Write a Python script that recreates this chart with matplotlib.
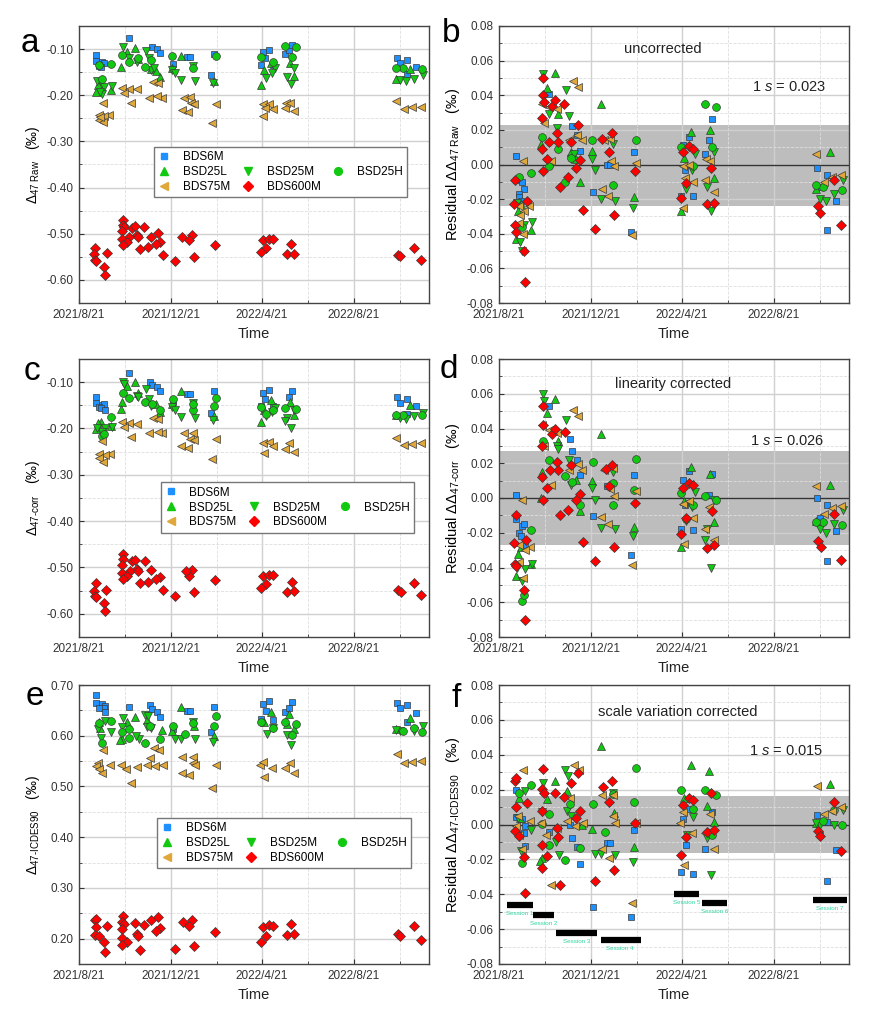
import numpy as np
import matplotlib
matplotlib.use('Agg')
import matplotlib.pyplot as plt
import matplotlib.dates as mdates
from matplotlib.lines import Line2D

# Fonts
plt.rcParams['font.family'] = ['Liberation Sans', 'DejaVu Sans']
plt.rcParams['mathtext.fontset'] = 'custom'
plt.rcParams['mathtext.rm'] = 'Liberation Sans'
plt.rcParams['mathtext.it'] = 'Liberation Sans:italic'
plt.rcParams['axes.unicode_minus'] = False

# Samples
names = ['BDS6M', 'BSD25L', 'BSD25M', 'BSD25H', 'BDS75M', 'BDS600M']
markers = ['s', '^', 'v', 'o', '<', 'D']
colors = ['#1e90ff', '#12c912', '#12c912', '#12c912', '#e0a83a', '#ff0000']
msizes = [5.0, 6.0, 6.0, 5.6, 6.0, 5.0]

# Mittelwerte je Probe (a, c, e)
mean_raw = [-0.117, -0.150, -0.148, -0.128, -0.219, -0.521]
mean_corr = [-0.133, -0.157, -0.159, -0.156, -0.227, -0.524]
mean_cdes = [0.660, 0.612, 0.610, 0.607, 0.541, 0.212]

# Residuen (Tage seit 2021/8/21, Residuum) - uncorrected
res_b_6m = [(22, 0.005), (22, -0.009), (30, -0.010), (33, -0.014), (26, -0.017), (27, -0.019), (29, -0.021),
            (66, 0.041), (97, 0.022), (104, 0.017), (108, 0.008), (125, -0.016), (144, 0.000), (148, 0.000),
            (179, 0.007), (176, -0.039), (245, 0.011), (253, 0.016), (242, -0.018), (258, -0.018), (247, -0.003),
            (274, 0.006), (279, 0.014), (283, 0.026), (422, -0.002), (427, -0.013), (436, -0.006), (436, -0.038),
            (448, -0.021)]
res_b_25l = [(74, 0.053), (64, 0.044), (136, 0.035), (123, 0.008), (108, -0.010), (179, -0.019), (22, -0.043),
             (42, -0.038), (29, -0.023), (95, 0.007), (79, 0.029), (56, 0.012), (102, 0.003), (25, -0.027),
             (255, 0.019), (246, 0.004), (242, -0.027), (280, 0.020), (285, -0.008), (440, 0.007), (421, -0.014)]
res_b_25m = [(59, 0.052), (89, 0.043), (66, 0.029), (93, 0.028), (95, 0.003), (124, 0.003), (128, -0.003),
             (152, 0.012), (136, -0.020), (154, -0.021), (178, -0.025), (44, -0.033), (33, -0.035), (30, -0.050),
             (24, -0.022), (77, 0.021), (100, 0.006), (28, -0.045), (260, 0.006), (257, -0.003), (248, -0.014),
             (282, -0.027), (286, 0.007), (277, -0.013), (426, -0.020), (435, -0.021), (445, -0.017), (457, -0.009)]
res_b_25h = [(57, 0.016), (79, 0.009), (67, -0.001), (42, -0.005), (27, -0.007), (88, -0.010), (124, 0.014),
             (151, -0.012), (182, 0.014), (96, 0.004), (30, -0.036), (242, 0.010), (258, -0.001), (274, 0.035),
             (288, 0.033), (283, 0.010), (430, -0.013), (456, -0.015), (421, -0.012)]
res_b_75m = [(98, 0.048), (105, 0.045), (57, 0.035), (66, 0.033), (77, 0.032), (60, 0.024), (93, 0.014),
             (110, 0.014), (104, 0.017), (69, 0.002), (32, 0.002), (140, 0.014), (148, 0.015), (149, 0.002),
             (153, -0.001), (182, 0.001), (137, -0.014), (145, -0.018), (177, -0.041), (27, -0.024), (40, -0.024),
             (33, -0.027), (26, -0.034), (32, -0.040), (28, -0.029), (245, -0.001), (252, -0.0005), (258, -0.010),
             (245, -0.025), (274, -0.009), (275, 0.003), (286, -0.016), (247, -0.008), (280, 0.002),
             (421, 0.006), (432, -0.010), (443, -0.007), (454, -0.006)]
res_b_600 = [(58, 0.050), (58, 0.040), (60, 0.036), (70, 0.034), (75, 0.037), (87, 0.035), (57, 0.027),
             (105, 0.023), (77, 0.018), (67, 0.013), (79, 0.013), (57, 0.009), (95, 0.013), (64, 0.003),
             (58, -0.004), (108, 0.0025), (102, -0.002), (92, -0.007), (81, -0.013), (150, 0.018), (146, 0.007),
             (137, 0.015), (181, -0.004), (111, -0.026), (127, -0.037), (153, -0.029), (21, -0.009), (20, -0.023),
             (37, -0.021), (21, -0.035), (23, -0.039), (33, -0.050), (35, -0.068), (245, 0.007), (253, 0.0105),
             (258, 0.009), (249, -0.0104), (242, -0.0195), (276, -0.023), (286, -0.022), (281, -0.002),
             (424, -0.024), (427, -0.028), (445, -0.009), (454, -0.035)]

# Residuen - linearity corrected
res_d_6m = [(22, 0.002), (22, -0.012), (31, -0.016), (33, -0.015), (27, -0.020), (29, -0.022), (35, -0.027),
            (66, 0.053), (94, 0.034), (97, 0.027), (103, 0.022), (108, 0.013), (125, -0.0105), (144, 0.0067),
            (148, 0.0067), (179, 0.013), (176, -0.0326), (245, 0.0105), (253, 0.0153), (242, -0.0177),
            (258, -0.0186), (247, -0.004), (279, 0.002), (283, 0.0138), (422, 0.0), (427, -0.0115),
            (436, -0.004), (436, -0.036), (448, -0.019)]
res_d_25l = [(74, 0.057), (64, 0.049), (136, 0.037), (57, 0.015), (79, 0.033), (123, 0.0096), (108, -0.0077),
             (179, -0.0167), (102, 0.0105), (22, -0.045), (42, -0.038), (29, -0.028), (25, -0.032), (56, 0.0),
             (255, 0.018), (246, -0.002), (242, -0.028), (280, 0.014), (285, -0.014), (440, 0.0073), (421, -0.0134)]
res_d_25m = [(59, 0.060), (60, 0.056), (89, 0.045), (77, 0.030), (79, 0.028), (93, 0.022), (95, 0.0077),
             (124, 0.0058), (128, -0.001), (152, 0.015), (136, -0.017), (154, -0.018), (178, -0.022), (44, -0.038),
             (35, -0.041), (30, -0.048), (24, -0.040), (260, 0.0035), (248, -0.0134), (257, -0.005), (282, -0.040),
             (286, -0.0013), (277, -0.018), (274, -0.024), (426, -0.018), (435, -0.020), (445, -0.015), (457, -0.007)]
res_d_25h = [(58, 0.0326), (66, 0.022), (88, 0.0128), (125, 0.0205), (151, -0.004), (42, -0.0186), (30, -0.0595),
             (33, -0.0556), (182, 0.0224), (179, 0.0048), (108, -0.004), (151, 0.0086), (97, 0.009), (242, 0.003),
             (258, -0.004), (274, 0.001), (288, -0.0013), (248, -0.012), (430, -0.0138), (456, -0.0153), (421, -0.014)]
res_d_75m = [(98, 0.0505), (105, 0.047), (57, 0.042), (66, 0.039), (77, 0.0374), (60, 0.030), (93, 0.0163),
             (110, 0.0163), (105, 0.0198), (69, 0.0077), (31, -0.001), (140, 0.0163), (152, 0.0173), (148, 0.0052),
             (153, 0.0013), (182, 0.0038), (136, -0.011), (145, -0.015), (177, -0.0384), (27, -0.027), (41, -0.028),
             (35, -0.030), (26, -0.037), (32, -0.046), (245, -0.0035), (252, -0.002), (258, -0.0115), (246, -0.0265),
             (274, -0.0177), (279, -0.005), (286, -0.024), (421, 0.0067), (432, -0.0092), (443, -0.0058),
             (454, -0.0048)]
res_d_600 = [(58, 0.053), (58, 0.042), (70, 0.037), (74, 0.040), (88, 0.038), (57, 0.030), (77, 0.021), (68, 0.016),
             (79, 0.016), (96, 0.019), (57, 0.012), (64, 0.006), (108, 0.0025), (102, -0.0013), (58, -0.001),
             (92, -0.0067), (81, -0.010), (111, -0.0255), (127, -0.0365), (153, -0.028), (150, 0.019), (146, 0.0067),
             (142, 0.0167), (181, -0.003), (22, -0.010), (20, -0.026), (36, -0.024), (21, -0.038), (23, -0.039),
             (33, -0.053), (35, -0.070), (245, 0.0058), (252, 0.0086), (258, 0.0075), (249, -0.0115), (242, -0.0205),
             (276, -0.0288), (286, -0.0272), (283, -0.0077), (424, -0.025), (428, -0.028), (445, -0.009),
             (454, -0.0355)]

# Residuen - scale variation corrected
res_f_6m = [(22, 0.020), (23, 0.0044), (30, 0.0033), (35, -0.001), (33, -0.005), (27, -0.006), (35, -0.0125),
            (66, -0.0042), (94, -0.0004), (97, -0.008), (103, -0.0129), (108, -0.0224), (144, -0.0107),
            (148, -0.0107), (125, -0.0474), (179, -0.003), (176, -0.0528), (244, 0.0033), (253, 0.009),
            (249, -0.012), (242, -0.0275), (258, -0.0282), (274, -0.014), (279, -0.0052), (283, 0.0073),
            (422, 0.0052), (427, -0.0063), (436, 0.0013), (436, -0.0326), (448, -0.0148)]
res_f_25l = [(136, 0.045), (74, 0.025), (64, 0.0144), (26, 0.015), (57, -0.019), (123, -0.0025), (179, -0.0129),
             (153, 0.0067), (54, -0.021), (91, 0.019), (28, 0.004), (110, 0.0), (255, 0.034), (279, 0.0305),
             (276, 0.0106), (246, 0.0154), (285, 0.0013), (440, 0.0234), (421, 0.0006)]
res_f_25m = [(88, 0.031), (92, 0.028), (58, 0.024), (35, 0.019), (57, 0.007), (91, 0.0077), (80, -0.0173),
             (128, -0.0167), (136, -0.0167), (154, -0.0173), (178, -0.0217), (151, 0.018), (29, -0.015),
             (76, -0.0102), (95, 0.005), (42, -0.003), (25, 0.004), (258, 0.0044), (282, -0.029), (250, -0.0063),
             (276, -0.008), (426, 0.0), (445, -0.0004), (457, 0.0083), (421, 0.001)]
res_f_25h = [(42, 0.0224), (57, 0.0004), (66, -0.0115), (88, -0.0205), (94, 0.012), (125, 0.0115), (141, -0.0044),
             (151, 0.0173), (182, 0.0326), (179, 0.013), (30, -0.022), (108, -0.0134), (27, 0.018), (67, 0.006),
             (242, 0.0196), (258, 0.009), (274, 0.0196), (288, 0.0169), (283, -0.006), (430, 0.002), (445, 0.0086),
             (456, 0.0)]
res_f_75m = [(25, 0.005), (23, -0.001), (27, -0.006), (31, -0.014), (41, 0.002), (32, 0.031), (56, 0.001),
             (62, -0.006), (69, -0.0345), (77, -0.002), (91, 0.002), (94, 0.015), (99, 0.034), (106, 0.031),
             (101, -0.001), (111, 0.001), (137, 0.017), (152, 0.017), (137, -0.014), (146, -0.019), (151, 0.005),
             (154, 0.001), (177, -0.045), (182, 0.001), (241, 0.001), (244, 0.007), (246, -0.023), (257, -0.005),
             (274, -0.005), (280, 0.006), (286, -0.014), (422, 0.022), (432, 0.006), (443, 0.008), (454, 0.010)]
res_f_600 = [(58, 0.0317), (105, 0.0297), (21, 0.025), (23, 0.0269), (57, 0.0205), (60, 0.0178), (96, 0.024),
             (74, 0.018), (87, 0.0157), (150, 0.025), (138, 0.0215), (146, 0.0129), (37, 0.0121), (22, 0.010),
             (108, 0.008), (57, 0.0077), (102, 0.0035), (77, -0.002), (78, -0.007), (21, -0.004), (57, -0.0115),
             (26, -0.0067), (181, 0.001), (64, -0.018), (33, -0.0186), (57, -0.025), (153, -0.0263), (127, -0.0326),
             (81, -0.0345), (35, -0.039), (244, 0.0111), (252, 0.015), (258, 0.0138), (249, -0.0073),
             (242, -0.0177), (281, 0.0178), (276, -0.0044), (286, -0.0029), (424, -0.0038), (427, -0.0067),
             (445, 0.0129), (454, -0.015)]

res_b = [res_b_6m, res_b_25l, res_b_25m, res_b_25h, res_b_75m, res_b_600]
res_d = [res_d_6m, res_d_25l, res_d_25m, res_d_25h, res_d_75m, res_d_600]
res_f = [res_f_6m, res_f_25l, res_f_25m, res_f_25h, res_f_75m, res_f_600]

# Sessions (Tage seit Start)
sess_start = [10, 45, 76, 135, 232, 270, 417]
sess_end = [45, 73, 130, 188, 266, 303, 462]
sess_y = [-0.046, -0.052, -0.062, -0.066, -0.040, -0.045, -0.0434]
sess_labels = ['Session 1', 'Session 2', 'Session 3', 'Session 4', 'Session 5', 'Session 6', 'Session 7']

# 1 s Baender
band_b = (-0.0237, 0.0229)
band_d = (-0.0268, 0.0268)
band_f = (-0.0163, 0.0163)

start = np.datetime64('2021-08-21')
x_end = np.datetime64('2022-11-29')
major_dates = ['2021-08-21', '2021-12-21', '2022-04-21', '2022-08-21']
major_labels = ['2021/8/21', '2021/12/21', '2022/4/21', '2022/8/21']
minor_dates = ['2021-10-21', '2022-02-21', '2022-06-21', '2022-10-21']


def to_dates(days):
    return start + np.array(days).astype('timedelta64[D]')


def style(ax, ylim, ymaj, ymin):
    ax.set_xlim(start, x_end)
    ax.set_ylim(*ylim)
    ax.set_xticks(mdates.date2num(np.array(major_dates, dtype='datetime64[D]')))
    ax.set_xticklabels(major_labels)
    ax.set_xticks(mdates.date2num(np.array(minor_dates, dtype='datetime64[D]')), minor=True)
    ax.set_yticks(ymaj)
    ax.set_yticks(ymin, minor=True)
    ax.set_yticklabels(['%.2f' % v for v in ymaj])
    ax.set_axisbelow(True)
    ax.grid(which='major', color='#d0d0d0', lw=1.0)
    ax.grid(which='minor', color='#dedede', lw=0.6, ls='--')
    ax.tick_params(which='both', direction='in', colors='#333333', labelsize=8.5, top=False, right=False)
    ax.tick_params(which='major', length=3.5, width=0.8, pad=4)
    ax.tick_params(which='minor', length=2, width=0.6)
    for sp in ax.spines.values():
        sp.set_color('#444444')
        sp.set_linewidth(1.0)
    ax.set_xlabel('Time', fontsize=10.5, color='#222222')
    ax.xaxis.set_label_coords(0.5, -0.085)
    ax.yaxis.set_label_coords(-0.106, 0.5)


def draw(ax, res, means=None):
    for i in range(6):
        d = [p[0] for p in res[i]]
        v = np.array([p[1] for p in res[i]])
        if means is not None:
            v = v + means[i]
        ax.plot(to_dates(d), v, ls='none', marker=markers[i], ms=msizes[i], mfc=colors[i],
                mec='#3a3a3a', mew=0.5, zorder=3)


def legend(ax, anchor):
    h = []
    for i in range(6):
        h.append(Line2D([], [], ls='none', marker=markers[i], ms=msizes[i], mfc=colors[i], mec=colors[i]))
    blank = Line2D([], [], ls='none')
    handles = [h[0], h[1], h[4], blank, h[2], h[5], blank, h[3], blank]
    labels = [names[0], names[1], names[4], '', names[2], names[5], '', names[3], '']
    ax.legend(handles, labels, ncol=3, loc='upper left', bbox_to_anchor=anchor, fontsize=8.5,
              frameon=True, fancybox=False, edgecolor='#777777', framealpha=1, borderpad=0.35,
              labelspacing=0.25, handlelength=1.0, handletextpad=1.1, columnspacing=1.0, borderaxespad=0)


fig = plt.figure(figsize=(8.76, 10.11), dpi=100)
lx, rx, w = 79 / 876, 499 / 876, 350 / 876
rows = [(303, 277), (637, 278), (964, 279)]
axes = []
for bot, hgt in rows:
    b0 = 1 - bot / 1011
    axes.append((fig.add_axes([lx, b0, w, hgt / 1011]), fig.add_axes([rx, b0, w, hgt / 1011])))

abs_ticks = np.round(np.arange(-0.60, -0.09, 0.10), 2)
abs_minor = np.round(np.arange(-0.65, -0.04, 0.05), 3)
res_ticks = np.round(np.arange(-0.08, 0.081, 0.02), 2)
res_minor = np.round(np.arange(-0.08, 0.081, 0.01), 2)
cd_ticks = np.round(np.arange(0.20, 0.71, 0.10), 2)
cd_minor = np.round(np.arange(0.15, 0.71, 0.05), 3)

panels = [
    (res_b, mean_raw, (-0.65, -0.05), abs_ticks, abs_minor, band_b, 'uncorrected', '0.023',
     r'$\Delta_{47\ \mathrm{Raw}}$   (‰)', r'Residual $\Delta\Delta_{47\ \mathrm{Raw}}$   (‰)', (0.214, 0.563)),
    (res_d, mean_corr, (-0.65, -0.05), abs_ticks, abs_minor, band_d, 'linearity corrected', '0.026',
     r'$\Delta_{\mathrm{47‐corr}}$   (‰)', r'Residual $\Delta\Delta_{\mathrm{47‐corr}}$   (‰)', (0.233, 0.556)),
    (res_f, mean_cdes, (0.15, 0.70), cd_ticks, cd_minor, band_f, 'scale variation corrected', '0.015',
     r'$\Delta_{\mathrm{47‐ICDES90}}$   (‰)', r'Residual $\Delta\Delta_{\mathrm{47‐ICDES90}}$   (‰)', (0.224, 0.524)),
]
text_pos = [((0.469, 0.917), (0.829, 0.78)), ((0.498, 0.909), (0.824, 0.705)), ((0.512, 0.905), (0.82, 0.762))]

for k, (res, means, ylim, yt, ym, band, title, sval, lab_abs, lab_res, anchor) in enumerate(panels):
    axl, axr = axes[k]
    # absolute Werte
    style(axl, ylim, yt, ym)
    draw(axl, res, means)
    axl.set_ylabel(lab_abs, fontsize=10)
    legend(axl, anchor)
    # Residuen
    style(axr, (-0.08, 0.08), res_ticks, res_minor)
    axr.axhspan(band[0], band[1], color='#bdbdbd', lw=0, zorder=0.2)
    axr.axhline(0, color='#333333', lw=1.0, zorder=1)
    draw(axr, res)
    axr.set_ylabel(lab_res, fontsize=10.5)
    (tx, ty), (sx, sy) = text_pos[k]
    axr.text(tx, ty, title, transform=axr.transAxes, ha='center', va='center', fontsize=10.5, color='#222222')
    axr.text(sx, sy, r'1 $\it{s}$ = ' + sval, transform=axr.transAxes, ha='center', va='center',
             fontsize=10.5, color='#222222')

# Sessions in f
axf = axes[2][1]
for s0, s1, y, lab in zip(sess_start, sess_end, sess_y, sess_labels):
    axf.hlines(y, to_dates([s0])[0], to_dates([s1])[0], color='black', lw=4.5, zorder=4)
    xm = to_dates([(s0 + s1) / 2.0]).astype('datetime64[D]')[0]
    axf.text(xm, y - 0.005, lab, ha='center', va='center', fontsize=4.5, color='#2fd4a0')

# Panel letters
for lab, x, y in [('a', 30, 52), ('b', 451, 42), ('c', 32, 380), ('d', 449, 378), ('e', 35, 705), ('f', 456, 707)]:
    fig.text(x / 876, 1 - y / 1011, lab, fontsize=24, ha='center', va='baseline')

fig.savefig('out.png', dpi=100)
